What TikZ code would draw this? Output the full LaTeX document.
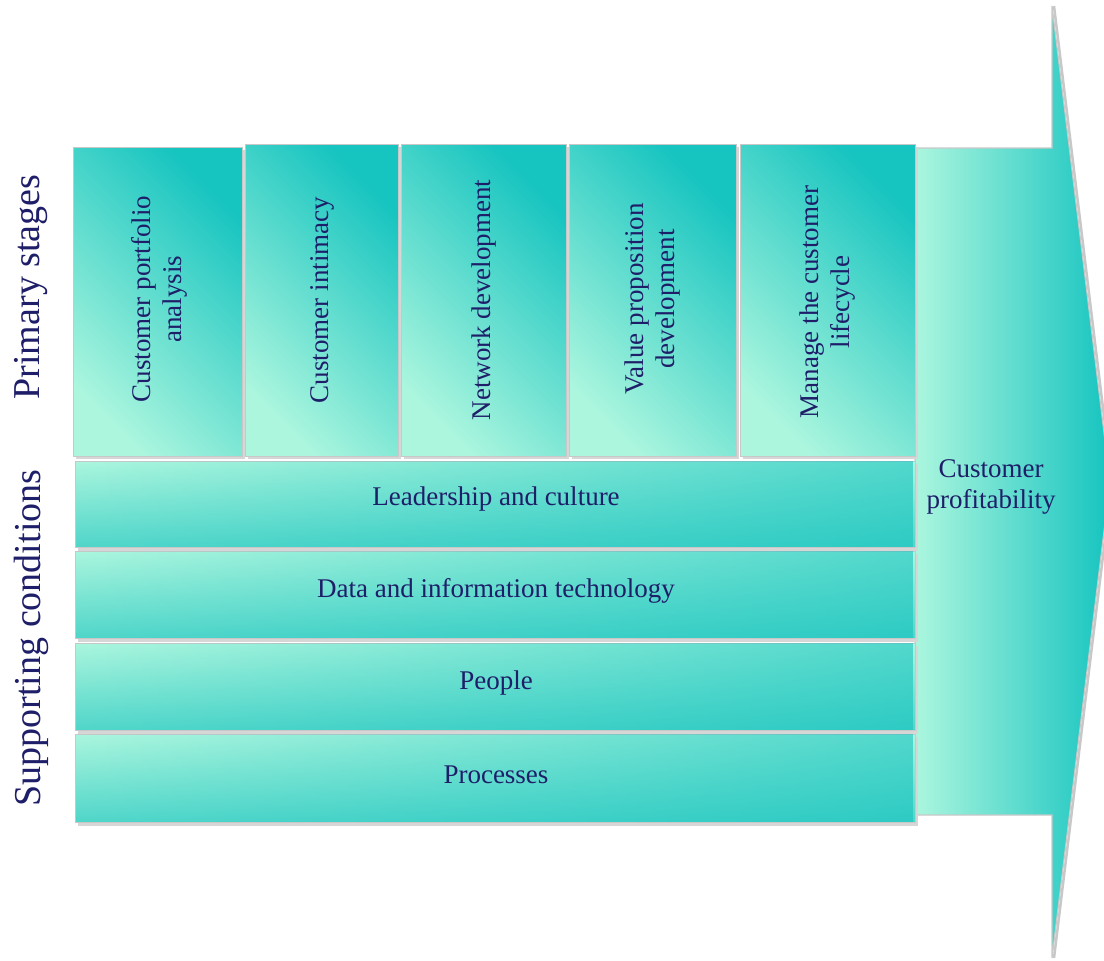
\documentclass[tikz,border=0pt]{standalone}
\usepackage{fontspec}
\setmainfont{Liberation Serif}
\usetikzlibrary{fadings}
\definecolor{lite}{RGB}{172,246,222}
\definecolor{midteal}{RGB}{80,214,202}
\definecolor{tealdk}{RGB}{22,196,192}
\definecolor{ink}{RGB}{30,30,105}
\definecolor{shadowc}{RGB}{214,214,214}
\definecolor{edgec}{RGB}{200,200,200}
\tikzfading[name=fadeleft, left color=transparent!100, right color=transparent!0]
\begin{document}
\begin{tikzpicture}[x=1pt,y=-1pt,
  stagefill/.style={top color=tealdk,bottom color=lite,shading angle=-45,draw=edgec,line width=0.8pt},
  rowfill/.style={top color=lite,bottom color=midteal,draw=edgec,line width=0.8pt},
  rowtint/.style={fill=tealdk,path fading=fadeleft,fill opacity=0.6},
  arrowfill/.style={left color=lite,right color=tealdk,draw=edgec,line width=1.2pt},
  shadowbox/.style={fill=shadowc},
  boxtext/.style={text=ink,font=\fontsize{27}{31}\selectfont,align=center,inner sep=0pt},
  sidetext/.style={text=ink,font=\fontsize{38}{44}\selectfont,rotate=90,inner sep=0pt}]
\useasboundingbox (0,0) rectangle (1104,961);
\fill[white] (0,0) rectangle (1104,961);
\clip (0,0) rectangle (1104,961);
% big arrow
\draw[edgec,line width=2.5pt] (1054,6) -- (1112,482) -- (1054,958);
\path[arrowfill] (915,148) -- (1052,148) -- (1052,6) -- (1110,482) -- (1052,958) -- (1052,815) -- (915,815) -- cycle;
% primary stage boxes
\foreach \xa/\xb/\yt in {73/242/147,245/398/144,401/566/144,569/736/144,740/915/144}{
  \fill[shadowbox] (\xa+3,\yt+3) rectangle (\xb+3,459);
  \path[stagefill] (\xa,\yt) rectangle (\xb,456);
}
% supporting condition rows
\foreach \ya/\yb in {461/547,551/638,643/730,734/822}{
  \fill[shadowbox] (78,\ya+3) rectangle (918,\yb+4);
  \path[rowfill] (75,\ya) rectangle (915,\yb);
  \fill[rowtint] (75.4,\ya+0.4) rectangle (914.6,\yb-0.4);
}
% stage labels
\node[boxtext,rotate=90] (s1) at (159,299) {Customer portfolio\\analysis};
\node[boxtext,rotate=90] (s2) at (322,300) {Customer intimacy};
\node[boxtext,rotate=90] (s3) at (484,300) {Network development};
\node[boxtext,rotate=90] (s4) at (653,299) {Value proposition\\development};
\node[boxtext,rotate=90] (s5) at (828,302) {Manage the customer\\lifecycle};
% row labels
\node[boxtext] (r1) at (496,499) {Leadership and culture};
\node[boxtext] (r2) at (496,591) {Data and information technology};
\node[boxtext] (r3) at (496,683) {People};
\node[boxtext] (r4) at (496,775) {Processes};
% arrow label
\node[boxtext] (cp) at (991,487) {Customer\\profitability};
% side titles
\node[sidetext] (ps) at (31,287) {Primary stages};
\node[sidetext] (sc) at (31,638) {Supporting conditions};
\end{tikzpicture}
\end{document}
